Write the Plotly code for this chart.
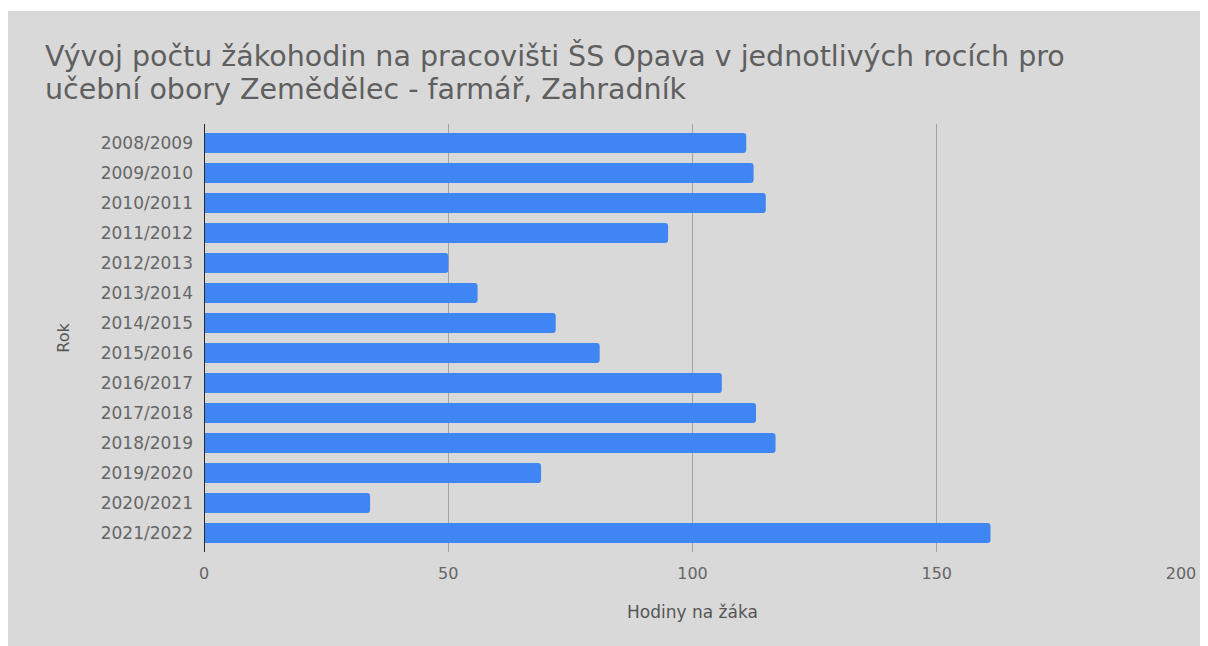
import plotly.graph_objects as go

years = ["2008/2009", "2009/2010", "2010/2011", "2011/2012", "2012/2013", "2013/2014",
         "2014/2015", "2015/2016", "2016/2017", "2017/2018", "2018/2019", "2019/2020",
         "2020/2021", "2021/2022"]
hours = [111, 112.5, 115, 95, 50, 56, 72, 81, 106, 113, 117, 69, 34, 161]

title_line1 = "Vývoj počtu žákohodin na pracovišti ŠS Opava v jednotlivých rocích pro"
title_line2 = "učební obory Zemědělec - farmář, Zahradník"
x_title = "Hodiny na žáka"
y_title = "Rok"
x_ticks = [0, 50, 100, 150, 200]

W, H = 1200, 638
L, R, T, B = 196, 24, 116, 94
pw, ph = W - L - R, H - T - B

def px_x(p):
    return (p - L) / pw

def px_y(p):
    return (H - B - p) / ph

fig = go.Figure(go.Bar(
    x=hours, y=years, orientation="h",
    marker=dict(color="#3f85f3", cornerradius=3, line=dict(width=0)),
    width=0.66,
))

# thin white strip at the very top
fig.add_shape(type="rect", xref="paper", yref="paper", layer="below",
              x0=px_x(-10), x1=px_x(W + 10), y0=px_y(3), y1=px_y(-5),
              fillcolor="white", line=dict(width=0))

title_font = dict(family="DejaVu Sans, sans-serif", size=28.5, color="#5f5f5f")
fig.add_annotation(text=title_line1, xref="paper", yref="paper", x=px_x(35), y=px_y(48),
                   xanchor="left", yanchor="middle", showarrow=False, font=title_font)
fig.add_annotation(text=title_line2, xref="paper", yref="paper", x=px_x(35), y=px_y(81),
                   xanchor="left", yanchor="middle", showarrow=False, font=title_font)

fig.update_layout(
    width=W, height=H,
    margin=dict(l=L, r=R, t=T, b=B, pad=0),
    paper_bgcolor="#d9d9d9", plot_bgcolor="#d9d9d9",
    font=dict(family="DejaVu Sans, sans-serif", color="#5a5a5a"),
    showlegend=False,
)
fig.update_xaxes(range=[0, 200], tickvals=x_ticks, showgrid=True, gridcolor="#a3a3a3",
                 gridwidth=1, zeroline=False, showline=False,
                 tickfont=dict(size=16, color="#666"), ticklabelstandoff=10,
                 title=dict(text=x_title, font=dict(size=17, color="#555"), standoff=24))
fig.update_yaxes(type="category", categoryorder="array", categoryarray=years,
                 range=[13.633, -0.633], showgrid=False, zeroline=False,
                 showline=False, tickfont=dict(size=17, color="#666"), ticklabelstandoff=10,
                 title=dict(text=y_title, font=dict(size=16, color="#555"), standoff=27))
# zero axis line at x=0
fig.add_shape(type="line", xref="x", yref="paper", x0=0, x1=0, y0=0, y1=1,
              line=dict(color="#2a2a2a", width=2))

fig.write_html("out.html")
